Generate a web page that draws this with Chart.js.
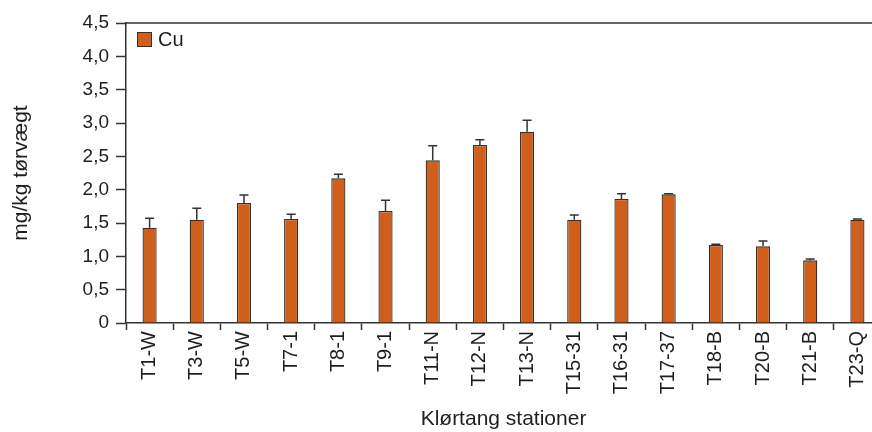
<!DOCTYPE html>
<html>
<head>
<meta charset="utf-8">
<script src="https://cdn.jsdelivr.net/npm/chart.js@4.4.0/dist/chart.umd.min.js"></script>
<style>
  html, body { margin: 0; padding: 0; background: #fff; overflow: hidden; }
  #wrap { width: 884px; height: 432px; position: relative; }
</style>
</head>
<body>
<div id="wrap"><canvas id="barchart"></canvas></div>
<script>
// Cu per station, mg/kg dry weight
var stations = ['T1-W', 'T3-W', 'T5-W', 'T7-1', 'T8-1', 'T9-1', 'T11-N', 'T12-N',
                'T13-N', 'T15-31', 'T16-31', 'T17-37', 'T18-B', 'T20-B', 'T21-B', 'T23-Q'];
var cuValues = [1.43, 1.55, 1.80, 1.56, 2.17, 1.68, 2.44, 2.67,
                2.87, 1.55, 1.86, 1.93, 1.17, 1.15, 0.94, 1.55];
// upper error (added on top of the bar)
var cuErrors = [0.14, 0.17, 0.12, 0.07, 0.06, 0.16, 0.22, 0.08,
                0.17, 0.07, 0.08, 0.01, 0.01, 0.08, 0.02, 0.01];
var yTicks = [0, 0.5, 1, 1.5, 2, 2.5, 3, 3.5, 4, 4.5];

var ink = '#1e1e1e';
var axisCol = '#333';
var fontFam = '"Liberation Sans", Arial, sans-serif';

// draws the error whiskers from the bar tops
var errorBars = {
    id: 'errorBars',
    afterDatasetsDraw: function (chart) {
        var ctx = chart.ctx;
        var meta = chart.getDatasetMeta(0);
        var y = chart.scales.y;
        ctx.save();
        ctx.strokeStyle = axisCol;
        ctx.lineWidth = 1.5;
        meta.data.forEach(function (bar, i) {
            var top = y.getPixelForValue(cuValues[i] + cuErrors[i]);
            ctx.beginPath();
            ctx.moveTo(bar.x, bar.y);
            ctx.lineTo(bar.x, top);
            ctx.moveTo(bar.x - 4.5, top);
            ctx.lineTo(bar.x + 4.5, top);
            ctx.stroke();
        });
        ctx.restore();
    }
};

// top frame line and the small legend inside the plot
var frameAndLegend = {
    id: 'frameAndLegend',
    afterDraw: function (chart) {
        var ctx = chart.ctx;
        var a = chart.chartArea;
        var ds = chart.data.datasets[0];
        ctx.save();
        ctx.strokeStyle = axisCol;
        ctx.lineWidth = 1.5;
        ctx.beginPath();
        ctx.moveTo(a.left, a.top);
        ctx.lineTo(a.right, a.top);
        ctx.stroke();

        var bx = a.left + 11, by = a.top + 9;
        ctx.fillStyle = ds.backgroundColor;
        ctx.fillRect(bx, by, 15, 15);
        ctx.lineWidth = 1;
        ctx.strokeRect(bx + 0.5, by + 0.5, 14, 14);
        ctx.fillStyle = ink;
        ctx.font = '20px ' + fontFam;
        ctx.textBaseline = 'middle';
        ctx.fillText(ds.label, bx + 21, by + 8);
        ctx.restore();
    }
};

var ctx = document.getElementById('barchart').getContext('2d');

var myBarChart = new Chart(ctx, {
    type: 'bar',
    data: {
        labels: stations,
        datasets: [{
            label: 'Cu',
            data: cuValues,
            backgroundColor: '#D05F1B',
            borderColor: '#333',
            borderWidth: 1.3,
            borderSkipped: 'bottom',
            barPercentage: 0.3,
            categoryPercentage: 1
        }]
    },
    options: {
        responsive: true,
        maintainAspectRatio: false,
        animation: false,
        layout: { padding: { top: 23, right: 3, left: 0, bottom: 0 } },
        plugins: {
            legend: { display: false },
            tooltip: { enabled: false }
        },
        scales: {
            x: {
                grid: {
                    display: true,
                    drawOnChartArea: false,
                    offset: true,
                    tickLength: 7,
                    tickColor: axisCol,
                    tickWidth: 1.5
                },
                border: { display: true, color: axisCol, width: 1.5 },
                ticks: {
                    color: ink,
                    minRotation: 90,
                    maxRotation: 90,
                    padding: 1,
                    autoSkip: false,
                    font: { family: fontFam, size: 20 }
                },
                title: {
                    display: true,
                    text: 'Klørtang stationer',
                    color: ink,
                    padding: { top: 0, bottom: 0 },
                    font: { family: fontFam, size: 21 }
                },
                afterFit: function (scale) { scale.height = 109; }
            },
            y: {
                min: 0,
                max: 4.5,
                afterBuildTicks: function (scale) {
                    scale.ticks = yTicks.map(function (v) { return { value: v }; });
                },
                grid: {
                    display: true,
                    drawOnChartArea: false,
                    tickLength: 10,
                    tickColor: axisCol,
                    tickWidth: 1.5
                },
                border: { display: true, color: axisCol, width: 1.5 },
                ticks: {
                    color: ink,
                    padding: 7,
                    font: { family: fontFam, size: 19 },
                    callback: function (v) {
                        return v === 0 ? '0' : v.toFixed(1).replace('.', ',');
                    }
                },
                title: {
                    display: true,
                    text: 'mg/kg tørvægt',
                    color: ink,
                    padding: { top: 9, bottom: 0 },
                    font: { family: fontFam, size: 21 }
                },
                afterFit: function (scale) { scale.width = 126; }
            }
        }
    },
    plugins: [errorBars, frameAndLegend]
});
</script>
</body>
</html>
